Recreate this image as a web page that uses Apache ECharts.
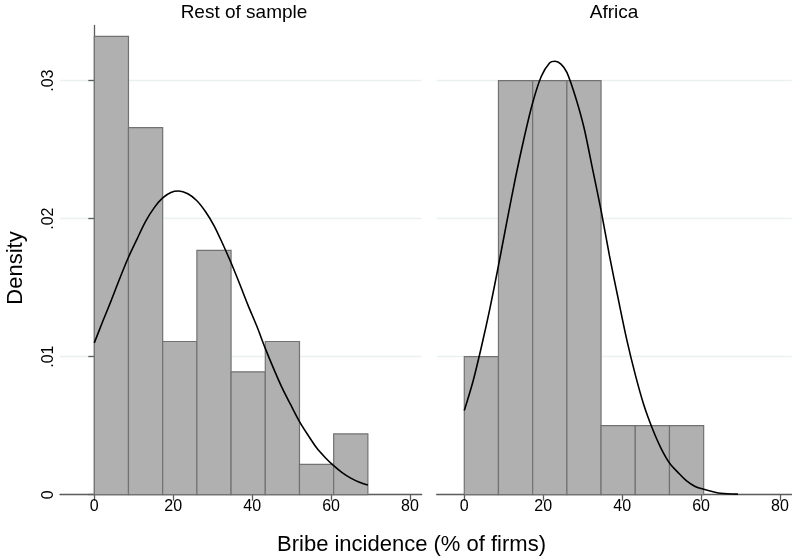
<!DOCTYPE html>
<html>
<head>
<meta charset="utf-8">
<script src="https://cdn.jsdelivr.net/npm/echarts@6/dist/echarts.min.js"></script>
<style>html,body{margin:0;padding:0;background:#fff}#c{width:792px;height:557px}</style>
</head>
<body>
<div id="c"></div>
<script>
// ---- data ----
const panelTitles = ['Rest of sample', 'Africa'];
const xTickValues = [0, 20, 40, 60, 80];
const yTickValues = [0, 0.01, 0.02, 0.03];
const yTickLabels = ['0', '.01', '.02', '.03'];

// histogram bins (edges) and densities
const restBinStart = [0, 8.66, 17.33, 26, 34.66, 43.33, 52, 60.66];
const restBinEnd   = [8.66, 17.33, 26, 34.66, 43.33, 52, 60.66, 69.33];
const restDensity  = [0.0332, 0.0266, 0.0111, 0.0177, 0.0089, 0.0111, 0.0022, 0.0044];

const afrBinStart = [0, 8.66, 17.33, 26, 34.66, 43.33, 52];
const afrBinEnd   = [8.66, 17.33, 26, 34.66, 43.33, 52, 60.66];
const afrDensity  = [0.0100, 0.0300, 0.0300, 0.0300, 0.0050, 0.0050, 0.0050];

// normal density curves
const restCurveX = [0, 2.2, 4.33, 6.5, 8.66, 10.8, 13, 15.2, 17.33, 19.4, 21.4, 23.7, 26, 28.2, 30.33, 32.5, 34.66, 36.8, 39, 41.2, 43.33, 45.5, 47.66, 49.8, 52, 54.2, 56.33, 58.5, 60.66, 62.8, 65, 67.2, 69.33];
const restCurveY = [0.0110, 0.0126, 0.0141, 0.0157, 0.0172, 0.0185, 0.0198, 0.0208, 0.0215, 0.0219, 0.0220, 0.0218, 0.0213, 0.0205, 0.0195, 0.0182, 0.0168, 0.0153, 0.0137, 0.0122, 0.0106, 0.0091, 0.0077, 0.0065, 0.0053, 0.0043, 0.0034, 0.0027, 0.0021, 0.0016, 0.0012, 0.0009, 0.0007];
const afrCurveX = [0, 2.2, 4.33, 6.5, 8.66, 10.8, 13, 15.2, 17.33, 19.5, 21.66, 23, 24.5, 26, 28.2, 30.33, 32.5, 34.66, 36.8, 39, 41.2, 43.33, 45.5, 47.66, 49.8, 52, 54.2, 56.33, 58.5, 60.66, 65, 69.33];
const afrCurveY = [0.0061, 0.0082, 0.0107, 0.0135, 0.0166, 0.0198, 0.0230, 0.0259, 0.0284, 0.0303, 0.0313, 0.0314, 0.0312, 0.0306, 0.0288, 0.0266, 0.0236, 0.0206, 0.0173, 0.0142, 0.0112, 0.0087, 0.0065, 0.0048, 0.0034, 0.0023, 0.0016, 0.0010, 0.0006, 0.0004, 0.0001, 0.00004];

const FONT = '"Liberation Sans", Arial, Helvetica, sans-serif';
const AXIS_COLOR = '#5c5c5c';
const GRID_COLOR = '#e9f1f2';

function zip(a, b, c) { return a.map((v, i) => c ? [v, b[i], c[i]] : [v, b[i]]); }

function histRender(params, api) {
  const x0 = api.value(0), x1 = api.value(1), h = api.value(2);
  const p0 = api.coord([x0, h]);
  const p1 = api.coord([x1, 0]);
  return {
    type: 'rect',
    shape: { x: p0[0], y: p0[1], width: p1[0] - p0[0], height: p1[1] - p0[1] },
    style: { fill: '#b0b0b0', stroke: '#727272', lineWidth: 1.2 }
  };
}

function xAxisCfg(gridIndex, min, max) {
  return {
    type: 'value', gridIndex: gridIndex, min: min, max: max,
    axisLine: { show: true, onZero: false, lineStyle: { color: AXIS_COLOR, width: 1.3 } },
    axisTick: { show: true, inside: false, length: 6, customValues: xTickValues, lineStyle: { color: AXIS_COLOR, width: 1.3 } },
    axisLabel: { show: true, customValues: xTickValues, margin: 4, fontSize: 16, color: '#000', fontFamily: FONT },
    splitLine: { show: false }
  };
}

function yAxisCfg(gridIndex, showAxis) {
  return {
    type: 'value', gridIndex: gridIndex, min: 0, max: 0.034, interval: 0.01,
    offset: showAxis ? -6 : 0,
    axisLine: { show: showAxis, lineStyle: { color: AXIS_COLOR, width: 1.3 } },
    axisTick: { show: showAxis, length: 6, customValues: yTickValues, lineStyle: { color: AXIS_COLOR, width: 1.3 } },
    axisLabel: {
      show: showAxis, customValues: yTickValues, rotate: 90, margin: 9, fontSize: 16, color: '#000', fontFamily: FONT,
      formatter: function (v) { const i = yTickValues.findIndex(t => Math.abs(t - v) < 1e-9); return i >= 0 ? yTickLabels[i] : ''; }
    },
    splitLine: { show: true, lineStyle: { color: GRID_COLOR, width: 1.3 } }
  };
}

const chart = echarts.init(document.getElementById('c'), null, { renderer: 'canvas' });
chart.setOption({
  animation: false,
  backgroundColor: '#fff',
  grid: [
    { left: 60, right: 370.3, top: 25.4, bottom: 62.3 },
    { left: 436.7, right: 0.3, top: 25.4, bottom: 62.3 }
  ],
  xAxis: [xAxisCfg(0, -8.69, 82.97), xAxisCfg(1, -6.99, 82.97)],
  yAxis: [yAxisCfg(0, true), yAxisCfg(1, false)],
  graphic: [
    { type: 'text', x: 244, y: 13, style: { text: panelTitles[0], fontSize: 19, fontFamily: FONT, fill: '#000', align: 'center', verticalAlign: 'middle' } },
    { type: 'text', x: 614, y: 13, style: { text: panelTitles[1], fontSize: 19, fontFamily: FONT, fill: '#000', align: 'center', verticalAlign: 'middle' } },
    { type: 'text', x: 411.5, y: 545, style: { text: 'Bribe incidence (% of firms)', fontSize: 22, fontFamily: FONT, fill: '#000', align: 'center', verticalAlign: 'middle' } },
    { type: 'text', x: 16, y: 268, rotation: Math.PI / 2, style: { text: 'Density', fontSize: 22, fontFamily: FONT, fill: '#000', align: 'center', verticalAlign: 'middle' } }
  ],
  series: [
    { type: 'custom', xAxisIndex: 0, yAxisIndex: 0, renderItem: histRender, encode: { x: [0, 1], y: 2 }, data: zip(restBinStart, restBinEnd, restDensity), z: 2 },
    { type: 'custom', xAxisIndex: 1, yAxisIndex: 1, renderItem: histRender, encode: { x: [0, 1], y: 2 }, data: zip(afrBinStart, afrBinEnd, afrDensity), z: 2 },
    { type: 'line', xAxisIndex: 0, yAxisIndex: 0, data: zip(restCurveX, restCurveY), smooth: 0.3, showSymbol: false, lineStyle: { color: '#000', width: 1.6 }, z: 3 },
    { type: 'line', xAxisIndex: 1, yAxisIndex: 1, data: zip(afrCurveX, afrCurveY), smooth: 0.3, showSymbol: false, lineStyle: { color: '#000', width: 1.6 }, z: 3 }
  ]
});
</script>
</body>
</html>
